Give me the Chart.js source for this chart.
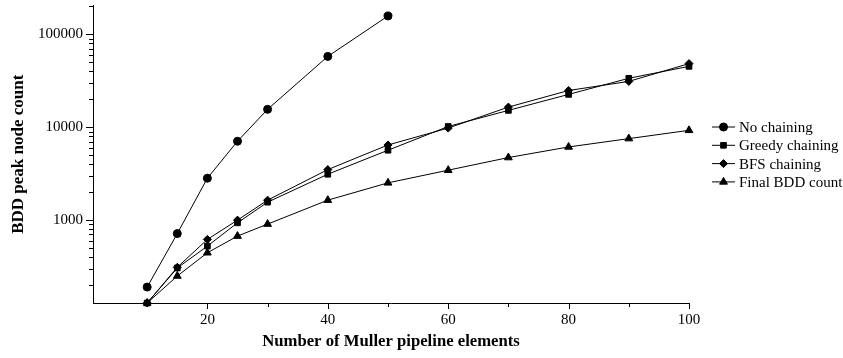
<!DOCTYPE html>
<html>
<head>
<meta charset="utf-8">
<script src="https://cdn.jsdelivr.net/npm/chart.js@4/dist/chart.umd.min.js"></script>
<style>
  html, body { margin: 0; padding: 0; background: #fff; }
  #wrap { width: 843px; height: 358px; }
</style>
</head>
<body>
<div id="wrap"><canvas id="chart" width="843" height="358"></canvas></div>
<script>
// values
const elements = [10, 15, 20, 25, 30, 40, 50, 60, 70, 80, 90, 100];
const noChaining = [190, 716, 2830, 7070, 15600, 58000, 158000];
const greedyChaining = [128, 305, 525, 935, 1560, 3120, 5660, 10200, 15200, 22600, 33700, 45300];
const bfsChaining = [128, 310, 620, 1000, 1640, 3500, 6450, 9800, 16500, 24900, 31200, 48500];
const finalCount = [128, 250, 445, 673, 906, 1640, 2520, 3450, 4720, 6140, 7550, 9270];

const xTicks = [20, 40, 60, 80, 100];
const xMinorTicks = [10, 30, 50, 70, 90];
const yTicks = [1000, 10000, 100000];

const serif = "'Liberation Serif', 'Times New Roman', serif";

function pts(vals) {
  return vals.map((v, i) => ({ x: elements[i], y: v }));
}

function series(label, vals, style, radius) {
  return {
    label,
    data: pts(vals),
    borderColor: "#000",
    backgroundColor: "#000",
    borderWidth: 1,
    pointStyle: style,
    pointRadius: radius,
    pointBackgroundColor: "#000",
    pointBorderColor: "#000",
    pointBorderWidth: 1,
    tension: 0,
    clip: false
  };
}

// axis ticks drawn outward, longer on the labelled values
const tickMarks = {
  id: "tickMarks",
  afterDraw(chart) {
    const ctx = chart.ctx;
    const x = chart.scales.x, y = chart.scales.y;
    ctx.save();
    ctx.strokeStyle = "#000";
    ctx.lineWidth = 1;
    ctx.beginPath();
    xTicks.forEach(v => {
      const px = Math.round(x.getPixelForValue(v)) + 0.5;
      ctx.moveTo(px, y.bottom); ctx.lineTo(px, y.bottom + 6);
    });
    xMinorTicks.forEach(v => {
      const px = Math.round(x.getPixelForValue(v)) + 0.5;
      ctx.moveTo(px, y.bottom); ctx.lineTo(px, y.bottom + 4);
    });
    for (let dec = 100; dec <= 100000; dec *= 10) {
      for (let m = 1; m <= 9; m++) {
        const v = dec * m;
        if (v < y.min || v > y.max) continue;
        const py = Math.round(y.getPixelForValue(v)) + 0.5;
        const len = m === 1 ? 7 : 4;
        ctx.moveTo(x.left, py); ctx.lineTo(x.left - len, py);
      }
    }
    ctx.stroke();
    ctx.restore();
  }
};

// legend on the right: line sample with marker, then label
const sideLegend = {
  id: "sideLegend",
  afterDraw(chart) {
    const ctx = chart.ctx;
    ctx.save();
    ctx.font = "15px " + serif;
    ctx.fillStyle = "#000";
    ctx.textBaseline = "middle";
    chart.data.datasets.forEach((ds, i) => {
      const yy = 127 + i * 18.3;
      ctx.strokeStyle = "#000";
      ctx.lineWidth = 1;
      ctx.beginPath();
      ctx.moveTo(712, yy); ctx.lineTo(735, yy);
      ctx.stroke();
      Chart.helpers.drawPoint(ctx, {
        pointStyle: ds.pointStyle, radius: ds.pointRadius, rotation: 0, borderWidth: 1
      }, 723.5, yy);
      ctx.fillText(ds.label, 739, yy + 1);
    });
    ctx.restore();
  }
};

new Chart(document.getElementById("chart"), {
  type: "line",
  data: {
    datasets: [
      series("No chaining", noChaining, "circle", 4),
      series("Greedy chaining", greedyChaining, "rect", 4),
      series("BFS chaining", bfsChaining, "rectRot", 4),
      series("Final BDD count", finalCount, "triangle", 4.5)
    ]
  },
  options: {
    responsive: false,
    animation: false,
    devicePixelRatio: 1,
    layout: { padding: { left: 0, top: 5, right: 154, bottom: 0 } },
    plugins: { legend: { display: false }, tooltip: { enabled: false } },
    scales: {
      x: {
        type: "linear",
        min: 1,
        max: 100,
        afterBuildTicks: s => { s.ticks = xTicks.map(v => ({ value: v })); },
        afterFit: s => { s.height = 55; s.paddingLeft = 0; s.paddingRight = 0; },
        grid: { display: false, drawTicks: false, tickLength: 0 },
        border: { display: true, color: "#000", width: 1 },
        ticks: { color: "#000", padding: 8, maxRotation: 0, font: { family: serif, size: 15 } },
        title: {
          display: true,
          text: "Number of Muller pipeline elements",
          color: "#000",
          padding: { top: 0, bottom: 6 },
          font: { family: serif, size: 16.7, weight: "bold" }
        }
      },
      y: {
        type: "logarithmic",
        min: 128,
        max: 205000,
        afterBuildTicks: s => { s.ticks = yTicks.map(v => ({ value: v })); },
        afterFit: s => { s.width = 93; s.paddingTop = 0; s.paddingBottom = 0; },
        grid: { display: false, drawTicks: false, tickLength: 0 },
        border: { display: true, color: "#000", width: 1 },
        ticks: { color: "#000", padding: 10, callback: v => String(v), font: { family: serif, size: 15 } },
        title: {
          display: true,
          text: "BDD peak node count",
          color: "#000",
          padding: { top: 8, bottom: 0 },
          font: { family: serif, size: 17, weight: "bold" }
        }
      }
    }
  },
  plugins: [tickMarks, sideLegend]
});
</script>
</body>
</html>
